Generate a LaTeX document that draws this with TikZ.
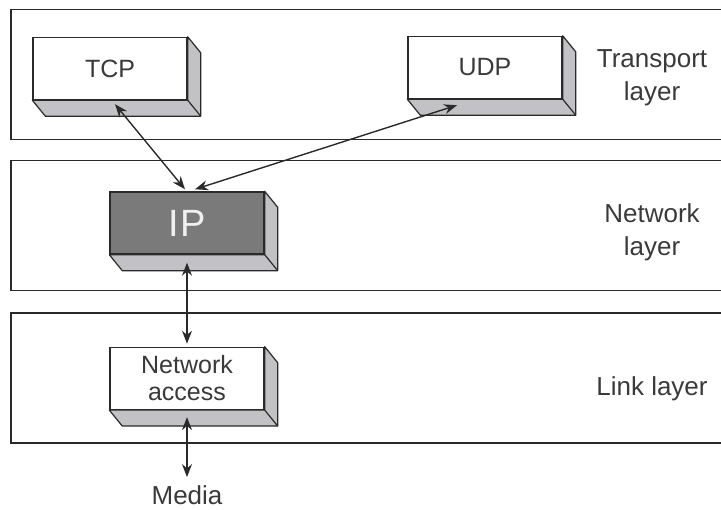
\documentclass[tikz,border=0pt]{standalone}
\usepackage{fontspec}
\setmainfont{Liberation Sans}
\usetikzlibrary{positioning,arrows.meta}
\definecolor{ink}{HTML}{2A2A2A}
\definecolor{txt}{HTML}{3A3A3A}
\definecolor{facegray}{HTML}{C2C2C6}
\definecolor{ipgray}{HTML}{7A7A7A}
\tikzstyle{layer} = [
draw=ink,
line width=1.8pt,
minimum width=724pt,
minimum height=130pt,
inner sep=0pt
]
\tikzstyle{proto} = [
draw=ink,
line width=1.4pt,
fill=white,
minimum width=154pt,
minimum height=62pt,
inner sep=0pt,
align=center,
text=txt,
font=\fontsize{25}{27}\selectfont
]
\tikzstyle{ipbox} = [
proto,
fill=ipgray,
text=white!94!black,
font=\fontsize{38}{40}\selectfont
]
\tikzstyle{face} = [
draw=ink,
line width=1.2pt,
fill=facegray,
line join=round
]
\tikzstyle{layername} = [
align=center,
text=txt,
font=\fontsize{26}{33}\selectfont
]
\tikzstyle{conn} = [
{Stealth[length=13pt,width=10pt]}-{Stealth[length=13pt,width=10pt]},
draw=ink,
line width=1.4pt
]

\begin{document}
\begin{tikzpicture}[
	x=1pt,
	y=-1pt
	]
	\useasboundingbox (0,0) rectangle (721,510);
	
	% layers
	\node[layer] (transport) at (373,74.5) {};
	\node[layer] (network) at (373,225.5) {};
	\node[layer] (link) at (373,378) {};
	
	\node[layername] (tname) at (652,78) {Transport\\layer};
	\node[layername] (nname) at (652,232) {Network\\layer};
	\node[layername] (lname) at (652,389) {Link layer};
	
	% protocol boxes
	\node[proto] (tcp) at (110,68.5) {TCP};
	\node[proto] (udp) at (485,67.5) {UDP};
	\node[ipbox] (ip) at (187,223) {I\kern2ptP};
	\node[proto,below=92pt of ip] (nacc) {Network\\access};
	\node[text=txt,font=\fontsize{26}{28}\selectfont,inner sep=0pt,below=75pt of nacc] (media) {Media};
	
	\foreach \n in {tcp,udp,ip,nacc}{
		\draw[face] (\n.north east) -- ++(13,16) -- ([shift={(13,16)}]\n.south east)
			-- ([shift={(13,16)}]\n.south west) -- (\n.south west) -- (\n.south east) -- cycle;
		\draw[draw=ink,line width=1.2pt] (\n.south east) -- ++(13,16);
	}
	
	\draw[conn] ([shift={(-2,-2)}]ip.north) -- ([shift={(5,4)}]tcp.south);
	\draw[conn] ([shift={(8,-2)}]ip.north) -- ([shift={(-28,6)}]udp.south);
	\draw[conn] ([shift={(0,8)}]ip.south) -- ([shift={(0,-3)}]nacc.north);
	\draw[conn] ([shift={(0,7)}]nacc.south) -- ([shift={(0,-8)}]media.north);
\end{tikzpicture}
\end{document}
